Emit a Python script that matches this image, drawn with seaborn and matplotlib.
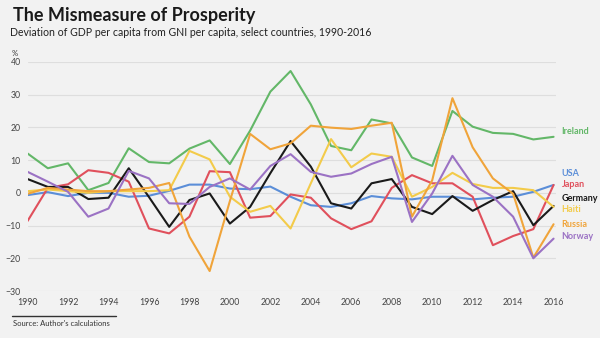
import numpy as np
import pandas as pd
import matplotlib
matplotlib.use("Agg")
import matplotlib.pyplot as plt
import seaborn as sns

years = list(range(1990, 2017))

ireland = [12, 7.5, 9, 0.8, 3, 13.6, 9.4, 9, 13.5, 16, 8.8, 19, 30.9, 37.2, 27,
           14.3, 13, 22.4, 21.2, 10.8, 8.2, 25, 20.2, 18.3, 18, 16.3, 17.1]
usa = [-0.7, 0.2, -1, 0, 0, -1.2, -0.9, 0.6, 2.5, 2.5, 1.3, 1.1, 1.9, -1.2, -3.8,
       -4.3, -3.2, -1, -1.7, -2, -1.2, -1.2, -2, -1.5, -1.2, 0.3, 2.4]
japan = [-8.6, 1.5, 2.6, 6.9, 6.1, 3.4, -10.9, -12.4, -7.3, 6.6, 6.3, -7.6, -7.1,
         -0.5, -1.5, -7.8, -11.1, -8.7, 1.5, 5.4, 2.9, 2.9, -1.2, -16, -13.2, -11.1, 2.4]
germany = [4.2, 1.8, 1.8, -1.9, -1.5, 7.5, -1.3, -10.4, -2.2, -0.2, -9.4, -4.3, 6,
           15.8, 8, -3.2, -4.8, 2.9, 4.2, -4.3, -6.5, -1, -5.5, -2.2, 0.5, -9.9, -4]
haiti = [0.5, 1, 0.5, 0, 0.5, 0.5, 0.5, 0.8, 12.8, 10.2, -1.2, -5.8, -4, -10.9, 2.9,
         16.4, 7.8, 12, 11, -1.2, 1.8, 6.1, 2.7, 1.5, 1.5, 0.8, -4.3]
russia = [-0.3, 1.5, 1, 0.5, 0.5, 1, 1.5, 3, -13.4, -23.9, -2.5, 18, 13.3, 15.1,
          20.5, 19.9, 19.5, 20.5, 21.4, -7.3, 3.8, 28.9, 13.9, 4.4, -0.3, -19.8, -9.6]
norway = [6.4, 3.4, 0.3, -7.3, -4.8, 6.7, 4.4, -3.2, -3.4, 1.8, 4.4, 1, 8.2, 11.8,
          6.4, 4.9, 5.9, 8.8, 11, -8.9, -0.2, 11.3, 2.4, -1.2, -7.3, -20, -14]

countries = ["Ireland", "USA", "Japan", "Germany", "Haiti", "Russia", "Norway"]
series = [ireland, usa, japan, germany, haiti, russia, norway]
colors = ["#63b768", "#5b8ed8", "#e0505c", "#1a1a1a", "#f3cb4a", "#f0a43a", "#9b72c4"]
# vertical positions of the end-of-line country labels
label_y = [18.6, 6.0, 2.4, -1.8, -5.2, -9.8, -13.2]
y_ticks = [-30, -20, -10, 0, 10, 20, 30, 40]
x_ticks = list(range(1990, 2017, 2))

df = pd.DataFrame({
    "year": np.tile(years, len(countries)),
    "value": np.concatenate(series),
    "country": np.repeat(countries, len(years)),
})

bg = "#f2f2f2"
sns.set_theme(style="white")
plt.rcParams["font.family"] = ["Lato", "DejaVu Sans"]

fig = plt.figure(figsize=(6, 3.38), dpi=100, facecolor=bg)
ax = fig.add_axes([0.046, 0.139, 0.88, 0.678], facecolor=bg)

sns.lineplot(data=df, x="year", y="value", hue="country", hue_order=countries,
             palette=colors, linewidth=1.5, legend=False, ax=ax, zorder=3)

ax.set_xlim(1990, 2016.1)
ax.set_ylim(-30, 40)
ax.set_yticks(y_ticks)
ax.set_xticks(x_ticks)
ax.tick_params(axis="both", length=0, labelsize=6.3, colors="#444444")
ax.tick_params(axis="x", pad=5)
ax.tick_params(axis="y", pad=5)
ax.grid(axis="y", color="#dedede", linewidth=0.8, zorder=0)
for s in ax.spines.values():
    s.set_visible(False)
ax.set_xlabel("")
ax.set_ylabel("")

for name, c, yv in zip(countries, colors, label_y):
    ax.text(2016.4, yv, name, color=c, fontsize=6.5, fontweight="bold",
            va="center", ha="left", clip_on=False)

fig.text(0.021, 0.955, "The Mismeasure of Prosperity", fontsize=13, fontweight="bold",
         color="#1a1a1a", va="center")
fig.text(0.016, 0.905, "Deviation of GDP per capita from GNI per capita, select countries, 1990-2016",
         fontsize=7.6, color="#222222", va="center")
fig.text(0.019, 0.843, "%", fontsize=5.5, color="#333333", va="center")

fig.add_artist(plt.Line2D([0.02, 0.193], [0.065, 0.065], color="#333333", linewidth=1.0))
fig.text(0.022, 0.042, "Source: Author's calculations", fontsize=5.5, color="#333333", va="center")

fig.savefig("out.png", dpi=100, facecolor=bg)
